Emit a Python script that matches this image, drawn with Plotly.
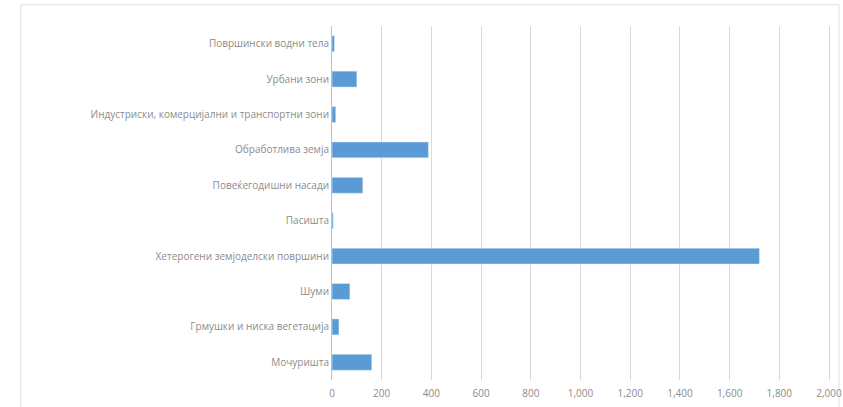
import plotly.graph_objects as go

categories = [
    "Површински водни тела",
    "Урбани зони",
    "Индустриски, комерцијални и транспортни зони",
    "Обработлива земја",
    "Повеќегодишни насади",
    "Пасишта",
    "Хетерогени земјоделски површини",
    "Шуми",
    "Грмушки и ниска вегетација",
    "Мочуришта",
]
values = [10, 100, 15, 388, 124, 5, 1720, 72, 28, 160]
tick_vals = [0, 200, 400, 600, 800, 1000, 1200, 1400, 1600, 1800, 2000]
tick_text = ["0", "200", "400", "600", "800", "1,000", "1,200", "1,400", "1,600", "1,800", "2,000"]

fig = go.Figure(go.Bar(
    x=values, y=categories, orientation="h",
    marker=dict(color="#5b9bd5"),
    width=0.45,
))

fig.update_layout(
    width=843, height=407,
    margin=dict(l=332, r=1, t=26, b=27),
    paper_bgcolor="white", plot_bgcolor="white",
    font=dict(family="Open Sans", size=10, color="#8c8c8c"),
    showlegend=False,
    xaxis=dict(
        range=[0, 2020], tickvals=tick_vals, ticktext=tick_text,
        showgrid=True, gridcolor="#d9d9d9", gridwidth=1,
        zeroline=False, showline=False, ticks="", ticklen=0,
        ticklabelstandoff=6, ticklabeloverflow="allow",
        tickfont=dict(size=10, color="#8c8c8c"),
    ),
    yaxis=dict(
        categoryorder="array", categoryarray=categories, autorange="reversed",
        showline=True, linecolor="#bfbfbf", linewidth=1,
        ticks="", showgrid=False,
        tickfont=dict(size=10, color="#8c8c8c"),
    ),
    shapes=[dict(type="rect", xref="paper", yref="paper",
                 x0=-0.62, x1=1.01, y0=-0.09, y1=1.06,
                 line=dict(color="#e0e0e0", width=1), layer="below")],
)

fig.write_html("out.html")
